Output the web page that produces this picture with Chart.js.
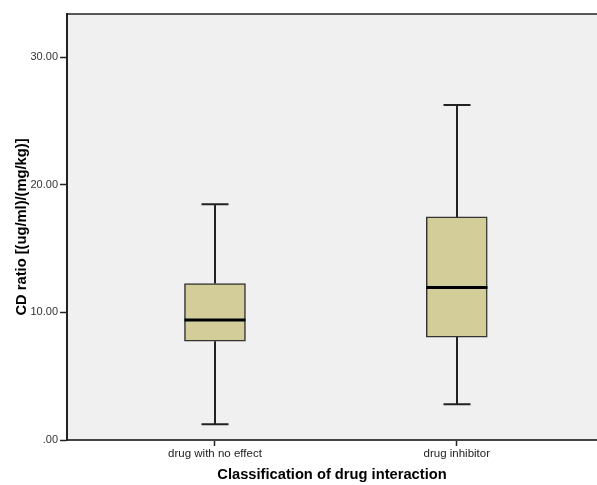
<!DOCTYPE html>
<html>
<head>
<meta charset="utf-8">
<script src="https://cdn.jsdelivr.net/npm/chart.js@4"></script>
<style>
  html, body { margin: 0; padding: 0; background: #fff; }
  #wrap { width: 597px; height: 485px; }
</style>
</head>
<body>
<div id="wrap"><canvas id="chart"></canvas></div>
<script>
// data
const categories = ["drug with no effect", "drug inhibitor"];
const whiskerLow = [1.23, 2.80];
const q1 = [7.75, 8.07];
const median = [9.40, 11.96];
const q3 = [12.27, 17.49];
const whiskerHigh = [18.48, 26.26];
const yTicks = [0, 10, 20, 30];

const BOX_FILL = "rgb(211,206,153)";
const INK = "#222";
const FONT = "'Liberation Sans', Arial, sans-serif";

// plot background + top frame line
const framePlugin = {
  id: "frame",
  beforeDraw(chart) {
    const { ctx, chartArea: a } = chart;
    ctx.save();
    ctx.fillStyle = "#f0f0f0";
    ctx.fillRect(a.left, a.top, a.right - a.left, a.bottom - a.top);
    ctx.restore();
  },
  afterDraw(chart) {
    const { ctx, chartArea: a } = chart;
    ctx.save();
    ctx.strokeStyle = INK;
    ctx.lineWidth = 1.5;
    ctx.beginPath();
    ctx.moveTo(a.left, a.top);
    ctx.lineTo(a.right, a.top);
    ctx.stroke();
    ctx.restore();
  }
};

// whiskers, caps and median lines
const boxPlugin = {
  id: "boxExtras",
  afterDatasetsDraw(chart) {
    const { ctx, scales: { x, y } } = chart;
    ctx.save();
    categories.forEach((c, i) => {
      const cx = Math.round(x.getPixelForValue(i + 1));
      const capHalf = 13.5;
      ctx.strokeStyle = INK;
      ctx.lineWidth = 2;
      ctx.beginPath();
      ctx.moveTo(cx, y.getPixelForValue(q3[i]));
      ctx.lineTo(cx, y.getPixelForValue(whiskerHigh[i]));
      ctx.moveTo(cx, y.getPixelForValue(q1[i]));
      ctx.lineTo(cx, y.getPixelForValue(whiskerLow[i]));
      ctx.moveTo(cx - capHalf, y.getPixelForValue(whiskerHigh[i]));
      ctx.lineTo(cx + capHalf, y.getPixelForValue(whiskerHigh[i]));
      ctx.moveTo(cx - capHalf, y.getPixelForValue(whiskerLow[i]));
      ctx.lineTo(cx + capHalf, y.getPixelForValue(whiskerLow[i]));
      ctx.stroke();

      ctx.strokeStyle = "#000";
      ctx.lineWidth = 3;
      ctx.beginPath();
      ctx.moveTo(cx - 30.5, y.getPixelForValue(median[i]));
      ctx.lineTo(cx + 30.5, y.getPixelForValue(median[i]));
      ctx.stroke();
    });
    ctx.restore();
  }
};

new Chart(document.getElementById("chart"), {
  type: "bar",
  data: {
    datasets: [{
      data: categories.map((c, i) => ({ x: i + 1, y: [q1[i], q3[i]] })),
      backgroundColor: BOX_FILL,
      borderColor: "#333",
      borderWidth: 1.5,
      borderSkipped: false,
      barThickness: 61
    }]
  },
  plugins: [framePlugin, boxPlugin],
  options: {
    responsive: true,
    maintainAspectRatio: false,
    animation: false,
    layout: { padding: { top: 14, right: 0, left: 0, bottom: 0 } },
    plugins: { legend: { display: false }, tooltip: { enabled: false } },
    scales: {
      x: {
        type: "linear",
        offset: false,
        min: 0.388,
        max: 2.58,
        afterBuildTicks(scale) {
          scale.ticks = categories.map((c, i) => ({ value: i + 1 }));
        },
        afterFit(scale) { scale.height = 45; },
        grid: { offset: false, drawOnChartArea: false, tickLength: 6, color: INK, tickWidth: 1.5 },
        border: { color: "#444", width: 2 },
        ticks: {
          padding: 1,
          color: INK,
          font: { family: FONT, size: 11.5 },
          callback: (v) => categories[v - 1]
        },
        title: {
          display: true,
          text: "Classification of drug interaction",
          color: "#000",
          font: { family: FONT, size: 14.7, weight: "bold" },
          padding: { top: 0, bottom: 1 }
        }
      },
      y: {
        min: 0,
        max: 33.4,
        afterBuildTicks(scale) {
          scale.ticks = yTicks.map(v => ({ value: v }));
        },
        afterFit(scale) { scale.width = 67; },
        grid: { drawOnChartArea: false, tickLength: 7, color: INK, tickWidth: 1.5 },
        border: { color: INK, width: 2 },
        ticks: {
          padding: 2,
          color: "#333",
          font: { family: FONT, size: 11 },
          callback: (v) => v === 0 ? ".00" : v.toFixed(2)
        },
        title: {
          display: true,
          text: "CD ratio [(ug/ml)/(mg/kg)]",
          color: "#000",
          font: { family: FONT, size: 14.7, weight: "bold" },
          padding: { top: 12.7, bottom: 0 }
        }
      }
    }
  }
});
</script>
</body>
</html>
